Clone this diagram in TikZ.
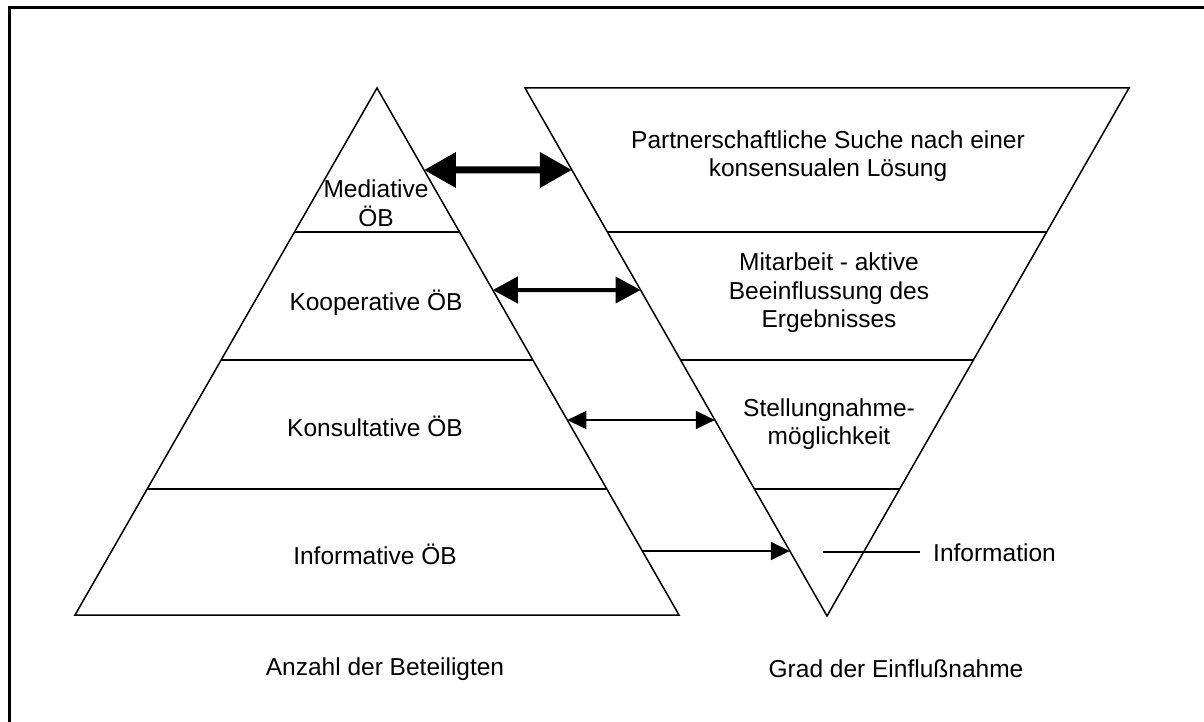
\documentclass[tikz,border=0pt]{standalone}
\usepackage{fontspec}
\setmainfont{Liberation Sans}
\usetikzlibrary{arrows.meta,calc}
\begin{document}
\begin{tikzpicture}[x=1pt,y=-1pt,
  tri/.style={draw=black,line width=1.5pt,line join=miter},
  divider/.style={draw=black,line width=1.5pt},
  lbl/.style={inner sep=0pt,align=center,font=\fontsize{24.5}{28.5}\selectfont},
  bigarrow/.style={line width=7pt,{Triangle[length=32pt,width=34pt]}-{Triangle[length=32pt,width=34pt]}},
  midarrow/.style={line width=4pt,{Triangle[length=25pt,width=26pt]}-{Triangle[length=25pt,width=26pt]}},
  smallarrow/.style={line width=1.6pt,{Triangle[length=19pt,width=18pt]}-{Triangle[length=19pt,width=18pt]}},
  onearrow/.style={line width=1.6pt,-{Triangle[length=19pt,width=18pt]}}]
\useasboundingbox (0,0) rectangle (1204,722);
% frame
\draw[line width=2.5pt] (9.5,730) -- (9.5,7.5) -- (1210,7.5);
% left triangle
\coordinate (A) at (377,88);
\coordinate (BL) at (75,615);
\coordinate (BR) at (679,615);
\draw[tri] (A) -- (BL) -- (BR) -- cycle;
% right triangle
\coordinate (TL) at (525,88);
\coordinate (TR) at (1129,88);
\coordinate (V) at (827,616);
\draw[tri] (TL) -- (TR) -- (V) -- cycle;
% dividers left
\coordinate (l1a) at ($(A)!0.2733!(BL)$); \coordinate (l1b) at ($(A)!0.2733!(BR)$);
\coordinate (l2a) at ($(A)!0.5161!(BL)$); \coordinate (l2b) at ($(A)!0.5161!(BR)$);
\coordinate (l3a) at ($(A)!0.7609!(BL)$); \coordinate (l3b) at ($(A)!0.7609!(BR)$);
\draw[divider] (l1a) -- (l1b);
\draw[divider] (l2a) -- (l2b);
\draw[divider] (l3a) -- (l3b);
% dividers right
\coordinate (r1a) at ($(TL)!0.2727!(V)$); \coordinate (r1b) at ($(TR)!0.2727!(V)$);
\coordinate (r2a) at ($(TL)!0.5152!(V)$); \coordinate (r2b) at ($(TR)!0.5152!(V)$);
\coordinate (r3a) at ($(TL)!0.7595!(V)$); \coordinate (r3b) at ($(TR)!0.7595!(V)$);
\draw[divider] (r1a) -- (r1b);
\draw[divider] (r2a) -- (r2b);
\draw[divider] (r3a) -- (r3b);
% arrow end points on the triangle edges
\coordinate (a1l) at ($(A)!0.1556!(BR)$);  \coordinate (a1r) at ($(TL)!0.1553!(V)$);
\coordinate (a2l) at ($(A)!0.3833!(BR)$);  \coordinate (a2r) at ($(TL)!0.3826!(V)$);
\coordinate (a3l) at ($(A)!0.6300!(BR)$);  \coordinate (a3r) at ($(TL)!0.6288!(V)$);
\coordinate (a4l) at ($(A)!0.8785!(BR)$);  \coordinate (a4r) at ($(TL)!0.8769!(V)$);
\draw[bigarrow] (a1l) -- (a1r);
\draw[midarrow] (a2l) -- (a2r);
\draw[smallarrow] (a3l) -- (a3r);
\draw[onearrow] (a4l) -- (a4r);
% left labels
\node[lbl] (med) at (376,203) {Mediative\\ÖB};
\node[lbl] (koop) at (376,303) {Kooperative ÖB};
\node[lbl] (kons) at (375,426) {Konsultative ÖB};
\node[lbl] (info) at (375,554) {Informative ÖB};
% right labels
\node[lbl] (part) at (828,156) {Partnerschaftliche Suche nach einer\\konsensualen Lösung};
\node[lbl] (mit) at (829,293) {Mitarbeit - aktive\\Beeinflussung des\\Ergebnisses};
\node[lbl] (stell) at (829,424) {Stellungnahme-\\möglichkeit};
\node[lbl,anchor=west] (infor) at (933,553) {Information};
\coordinate (infostart) at (823,552);
\coordinate (infoend) at (920,552);
\draw[line width=1.5pt] (infostart) -- (infoend);
% bottom labels
\node[lbl] (anz) at (385,669) {Anzahl der Beteiligten};
\node[lbl] (grad) at (896,669) {Grad der Einflußnahme};
\end{tikzpicture}
\end{document}
